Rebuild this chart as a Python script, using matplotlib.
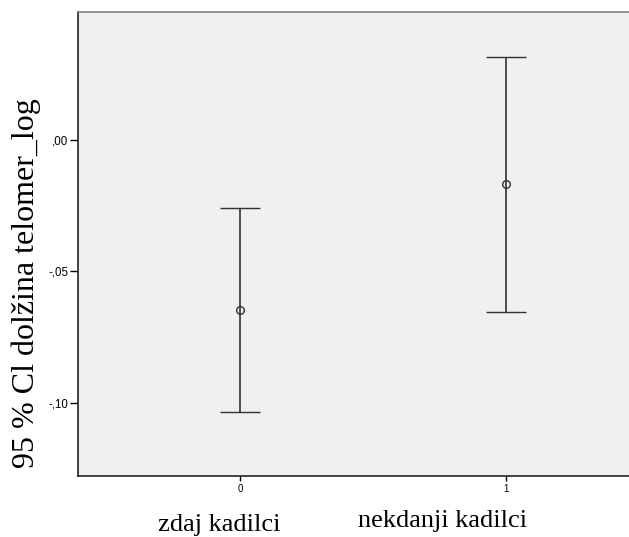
import numpy as np
import matplotlib.pyplot as plt

# group codes and 95% CI of log telomere length
groups = [0, 1]
group_names = ['zdaj kadilci', 'nekdanji kadilci']
means = [-0.0647, -0.0169]
ci_low = [-0.1037, -0.0654]
ci_high = [-0.0260, 0.0315]

yticks = [0.0, -0.05, -0.10]
ytick_labels = [',00', '-,05', '-,10']

fig = plt.figure(figsize=(6.29, 5.37), dpi=100)
ax = fig.add_axes([78/629, 61/537, 551/629, 464/537])
ax.set_facecolor('#f0f0f0')

m = np.array(means)
yerr = np.vstack([m - np.array(ci_low), np.array(ci_high) - m])
ax.errorbar(groups, means, yerr=yerr, fmt='o', color='#333333',
            ecolor='#333333', elinewidth=1.2, capsize=14.4, capthick=1.2,
            markersize=5.5, markerfacecolor='none', markeredgewidth=1.0)

ax.set_xlim(-0.609, 1.462)
ax.set_ylim(-0.12795, 0.04874)

ax.set_yticks(yticks)
ax.set_yticklabels(ytick_labels, fontsize=8.3, family='Liberation Sans')
ax.set_xticks(groups)
ax.set_xticklabels([str(g) for g in groups], fontsize=7, family='Liberation Sans')
ax.tick_params(axis='y', length=5.8, width=1.0, pad=1)
ax.tick_params(axis='x', length=3.6, width=1.0, pad=2)

ax.spines['right'].set_visible(False)
ax.spines['top'].set_color('#808080')
ax.spines['left'].set_color('#222222')
ax.spines['bottom'].set_color('#222222')
for s in ['left', 'bottom', 'top']:
    ax.spines[s].set_linewidth(1.2)

ax.set_ylabel('95 % Cl dolžina telomer_log', fontsize=23,
              family='Liberation Serif')
ax.yaxis.set_label_coords(-0.068, 0.415)

# group names under the axis
fig.text(219/629, 1/537, group_names[0], ha='center', va='bottom',
         fontsize=19, family='Liberation Serif')
fig.text(443/629, 5/537, group_names[1], ha='center', va='bottom',
         fontsize=19, family='Liberation Serif')

fig.savefig('out.png', dpi=100)
